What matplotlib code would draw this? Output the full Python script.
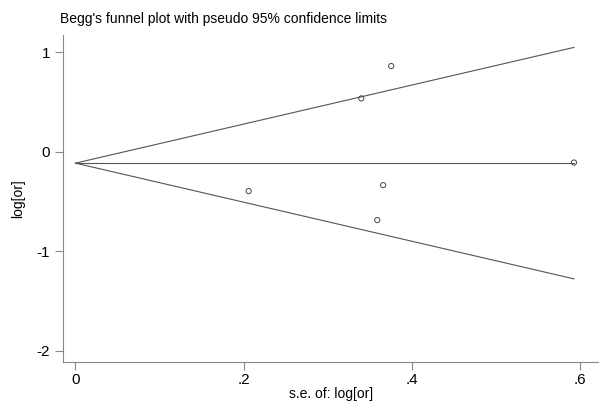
import matplotlib
matplotlib.use("Agg")
import matplotlib.pyplot as plt
import numpy as np

plt.rcParams['font.family'] = ['Liberation Sans', 'DejaVu Sans']

se = [0.206, 0.340, 0.359, 0.366, 0.3756, 0.593]
logor = [-0.397, 0.534, -0.688, -0.337, 0.859, -0.11]
pooled = -0.116
xticks = [0, 0.2, 0.4, 0.6]
xticklabels = ['0', '.2', '.4', '.6']
yticks = [1, 0, -1, -2]

fig = plt.figure(figsize=(6, 4.08), dpi=100)
ax = fig.add_axes([0.1055, 0.1135, 0.8917, 0.8005])

smax = max(se)
sx = np.array([0, smax])
lc = '#555555'
ax.plot(sx, pooled + 1.96 * sx, color=lc, lw=0.8)
ax.plot(sx, pooled - 1.96 * sx, color=lc, lw=0.8)
ax.plot(sx, [pooled, pooled], color=lc, lw=0.8)
ax.scatter(se, logor, s=14, facecolors='none', edgecolors='#444444', linewidths=0.7, zorder=3)

ax.set_xlim(-0.0145, 0.622)
ax.set_ylim(-2.11, 1.17)
ax.set_xticks(xticks)
ax.set_xticklabels(xticklabels)
ax.set_yticks(yticks)
ax.set_yticklabels([str(t) for t in yticks])
for s in ['top', 'right']:
    ax.spines[s].set_visible(False)
for s in ['left', 'bottom']:
    ax.spines[s].set_color('#888888')
    ax.spines[s].set_linewidth(0.8)
ax.tick_params(axis='both', colors='#888888', labelcolor='black', labelsize=11, length=6, width=0.8)
ax.tick_params(axis='x', pad=2)
ax.set_xlabel('s.e. of: log[or]', fontsize=10, labelpad=0)
ax.set_ylabel('log[or]', fontsize=10, labelpad=8)
fig.text(60 / 600, 1 - 19 / 408, "Begg's funnel plot with pseudo 95% confidence limits",
         fontsize=10, ha='left', va='center')

fig.savefig('out.png', dpi=100)
